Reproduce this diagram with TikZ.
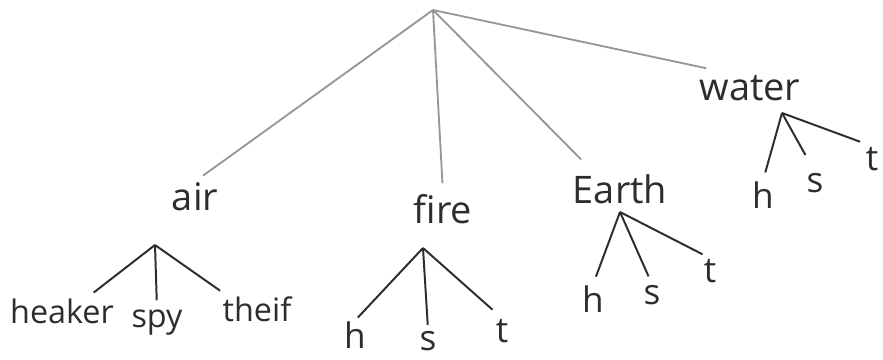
\documentclass[tikz,border=0pt]{standalone}
\usepackage{fontspec}
\setmainfont{Open Sans}
\usetikzlibrary{positioning, calc}
\definecolor{pencilcolor}{RGB}{150,150,150}
\definecolor{inkcolor}{RGB}{45,45,45}

\begin{document}
\begin{tikzpicture}[x=0.025cm, y=-0.025cm,
    word/.style={anchor=base, inner sep=1pt, text=inkcolor, font=\fontsize{27}{30}\selectfont},
    leaf/.style={word, font=\fontsize{25}{28}\selectfont},
    role/.style={word, font=\fontsize{23}{26}\selectfont},
    trunk/.style={pencilcolor, line width=1.3pt, shorten >=7pt},
    twig/.style={inkcolor, line width=1.4pt, shorten >=6pt}]
    \useasboundingbox (0,0) rectangle (883,360);

    % root and main branches
    \coordinate (root) at (433,10);
    \node[word] (air) at (195,211) {air};
    \node[word] (fire) at (443,224) {fire};
    \node[word] (earth) at (620,204) {Earth};
    \node[word] (water) at (750,101) {water};

    \draw[trunk] (root) -- (air.north);
    \draw[trunk] (root) -- (fire.north);
    \draw[trunk, shorten >=14pt] (root) -- ($(earth.north)+(-25,0)$);
    \draw[trunk] (root) -- ($(water.north west)+(18,-4)$);

    % air
    \coordinate (airtop) at (155,245);
    \node[role] (healer) at (62,324) {heaker};
    \node[role] (spy) at (157,328) {spy};
    \node[role] (thief) at (257,322) {theif};
    \draw[twig] (airtop) -- ($(healer.north)+(25,0)$);
    \draw[twig] (airtop) -- (spy.north);
    \draw[twig] (airtop) -- ($(thief.north)+(-30,0)$);

    % fire
    \coordinate (firetop) at (423,248);
    \node[leaf] (fireh) at (355,349) {h};
    \node[leaf] (fires) at (428,350) {s};
    \node[leaf] (firet) at (502,343) {t};
    \draw[twig, shorten >=3pt] (firetop) -- (fireh.north);
    \draw[twig, shorten >=3pt] (firetop) -- (fires.north);
    \draw[twig, shorten >=9pt] (firetop) -- (firet.north);

    % earth
    \coordinate (earthtop) at (620,212);
    \node[leaf] (earthh) at (593,313) {h};
    \node[leaf] (earths) at (652,305) {s};
    \node[leaf] (eartht) at (710,283) {t};
    \draw[twig] (earthtop) -- (earthh.north);
    \draw[twig] (earthtop) -- (earths.north);
    \draw[twig] (earthtop) -- (eartht.north);

    % water
    \coordinate (watertop) at (782,113);
    \node[leaf] (waterh) at (763,209) {h};
    \node[leaf] (waters) at (815,193) {s};
    \node[leaf] (watert) at (872,171) {t};
    \draw[twig] (watertop) -- (waterh.north);
    \draw[twig, shorten >=14pt] (watertop) -- (waters.north);
    \draw[twig, shorten >=9pt] (watertop) -- (watert.north);
\end{tikzpicture}
\end{document}
